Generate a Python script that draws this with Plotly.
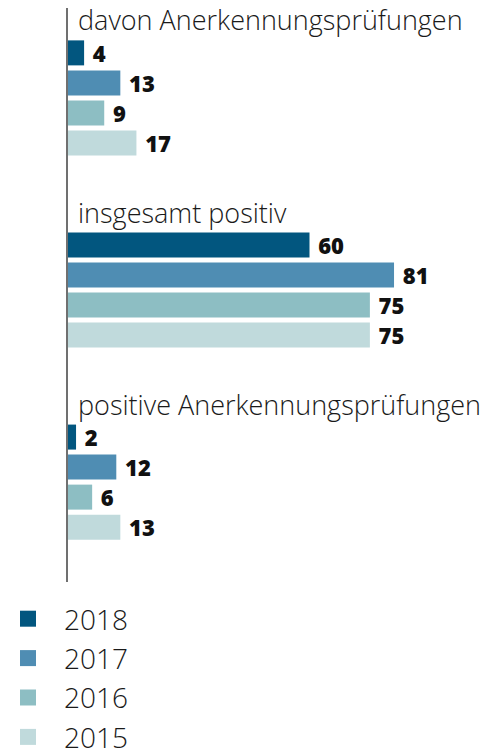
import plotly.graph_objects as go

groups = ["davon Anerkennungsprüfungen", "insgesamt positiv", "positive Anerkennungsprüfungen"]
years = ["2018", "2017", "2016", "2015"]
values = {
    "2018": [4, 60, 2],
    "2017": [13, 81, 12],
    "2016": [9, 75, 6],
    "2015": [17, 75, 13],
}
colors = {
    "2018": "#02567f",
    "2017": "#4f8db3",
    "2016": "#8dbec3",
    "2015": "#c0dadc",
}

FONT = "Open Sans"
fig = go.Figure()
for yr in years:
    fig.add_trace(go.Bar(
        y=groups, x=values[yr], orientation="h", name=yr,
        marker=dict(color=colors[yr], line=dict(width=0)),
        text=values[yr], texttemplate="\u00a0%{x}", textposition="outside",
        cliponaxis=False, constraintext="none",
        textfont=dict(family=FONT, size=22, color="#111111", weight=800),
        showlegend=False,
    ))
for yr in years:
    fig.add_trace(go.Scatter(
        x=[None], y=[None], mode="markers", name=yr,
        marker=dict(symbol="square", size=16, color=colors[yr]),
        showlegend=True,
    ))

for g in groups:
    fig.add_annotation(x=0, y=g, xref="x", yref="y", text=g, showarrow=False,
                       xanchor="left", yanchor="middle", xshift=8, yshift=78,
                       font=dict(family=FONT, size=27, color="#1a1a1a", weight=300))

fig.update_layout(
    width=496, height=749,
    margin=dict(l=68, r=10, t=8, b=167, autoexpand=False),
    barmode="group", bargap=0.375, bargroupgap=0.167,
    plot_bgcolor="white", paper_bgcolor="white",
    font=dict(family=FONT),
    xaxis=dict(range=[0, 103.85], visible=False, fixedrange=True),
    yaxis=dict(type="category", range=[2.52, -0.468], showticklabels=False,
               showline=True, linecolor="#707070", linewidth=2, ticks="",
               showgrid=False, zeroline=False),
    legend=dict(x=-0.1818, y=-0.0209, xanchor="left", yanchor="top",
                font=dict(family=FONT, size=28, color="#1a1a1a", weight=300),
                traceorder="normal", itemwidth=62),
)
fig.write_html("out.html", config={"displayModeBar": False},
               post_script="document.body.style.margin='0';")
